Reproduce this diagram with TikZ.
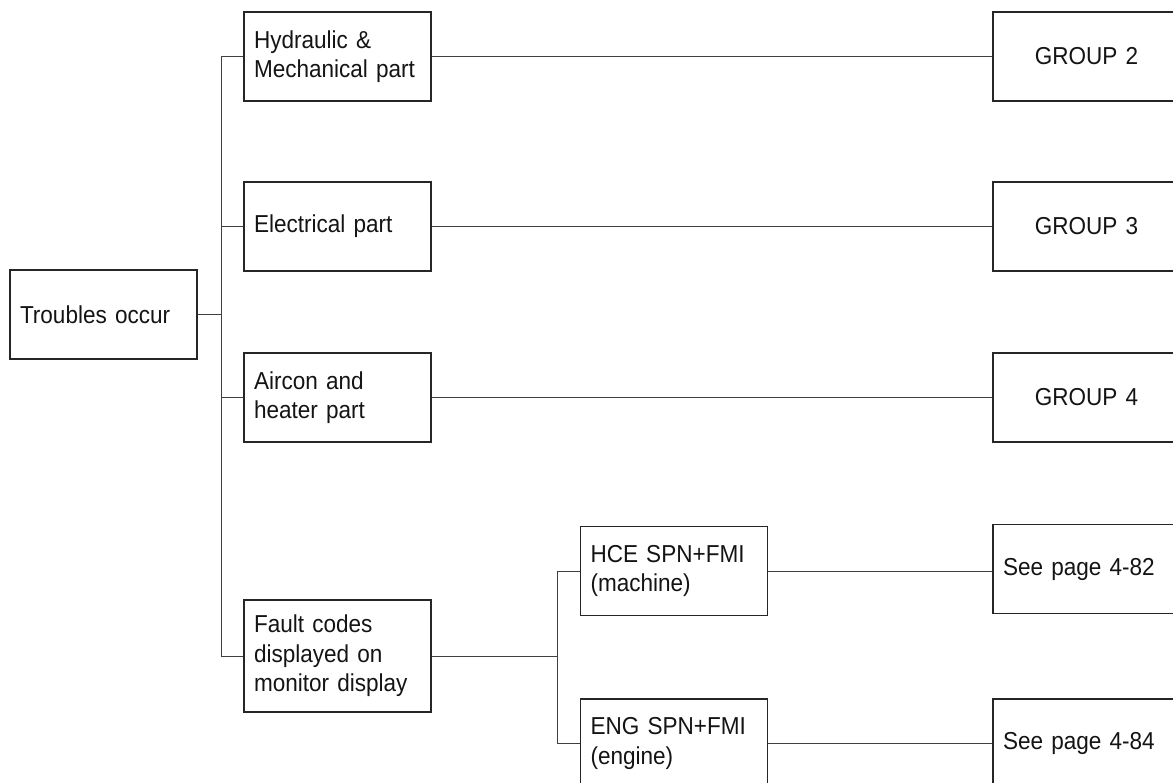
\documentclass[tikz,border=0pt]{standalone}
\usepackage{fontspec}
\setmainfont{Liberation Sans}[FakeStretch=0.92]
\newcommand\myboxfont{\fontsize{24.5pt}{29.5pt}\selectfont\spaceskip=5pt plus 2pt minus 1pt\relax}
\begin{document}
\begin{tikzpicture}[x=1pt,y=-1pt,
  box/.style={draw=black!85, line width=1.2pt, text=black!92, inner xsep=10pt, inner ysep=0pt,
    text width=167pt, minimum width=187pt, align=left, font=\myboxfont},
  hbox/.style={box, minimum height=89pt},
  cbox/.style={box, minimum height=89pt, align=center},
  link/.style={draw=black!75, line width=0.9pt}]
\useasboundingbox (0,0) rectangle (1173,783);
\clip (0,0) rectangle (1173,783);
\fill[white] (0,0) rectangle (1173,783);

\node[hbox] (t) at (103.5,314.5) {Troubles occur};
\node[hbox] (hyd) at (337.5,56.5) {Hydraulic \&\\Mechanical part};
\node[hbox] (ele) at (337.5,226.5) {Electrical part};
\node[hbox] (air) at (337.5,397.5) {Aircon and\\heater part};
\node[box, minimum height=112pt] (flt) at (337.5,656) {Fault codes\\displayed on\\monitor display};
\node[hbox] (hce) at (674,571) {HCE SPN+FMI\\(machine)};
\node[hbox] (eng) at (674,743.5) {ENG SPN+FMI\\(engine)};
\node[cbox] (g2) at (1086.5,56.5) {GROUP 2};
\node[cbox] (g3) at (1086.5,226.5) {GROUP 3};
\node[cbox] (g4) at (1086.5,397.5) {GROUP 4};
\node[hbox] (p82) at (1086.5,569) {See page 4-82};
\node[hbox] (p84) at (1086.5,743.5) {See page 4-84};

\coordinate (tr) at (221,0);
\coordinate (br) at (557,0);

\draw[link] (t.east) -- (t.east -| tr);
\draw[link] (hyd.west) -- (hyd.west -| tr) -- (flt.west -| tr) -- (flt.west);
\draw[link] (ele.west) -- (ele.west -| tr);
\draw[link] (air.west) -- (air.west -| tr);
\draw[link] (flt.east) -- (flt.east -| br);
\draw[link] (hce.west) -- (hce.west -| br) -- (eng.west -| br) -- (eng.west);
\draw[link] (hyd.east) -- (g2.west);
\draw[link] (ele.east) -- (g3.west);
\draw[link] (air.east) -- (g4.west);
\draw[link] (hce.east) -- (hce.east -| p82.west);
\draw[link] (eng.east) -- (p84.west);
\end{tikzpicture}
\end{document}
